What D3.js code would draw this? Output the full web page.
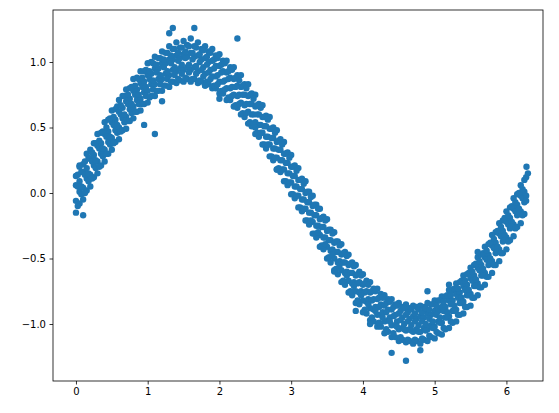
<!DOCTYPE html>
<html><head><meta charset="utf-8">
<script src="https://cdn.jsdelivr.net/npm/d3@7"></script>
<style>body{margin:0;background:#fff}</style></head>
<body><svg id="c" width="559" height="413"></svg>
<script>
const xs = [0,.05,.1,.15,.2,.25,.3,.35,.4,.45,.5,.55,.6,.65,.7,.75,.8,.85,.9,.95,1,1.05,1.1,1.15,1.2,1.25,1.3,1.35,1.4,1.45,1.5,1.55,1.6,1.65,1.7,1.75,1.8,1.85,1.9,1.95,2,2.05,2.1,2.15,2.2,2.25,2.3,2.35,2.4,2.45,2.5,2.55,2.6,2.65,2.7,2.75,2.8,2.85,2.9,2.95,3,3.05,3.1,3.15,3.2,3.25,3.3,3.35,3.4,3.45,3.5,3.55,3.6,3.65,3.7,3.75,3.8,3.85,3.9,3.95,4,4.05,4.1,4.15,4.2,4.25,4.3,4.35,4.4,4.45,4.5,4.55,4.6,4.65,4.7,4.75,4.8,4.85,4.9,4.95,5,5.05,5.1,5.15,5.2,5.25,5.3,5.35,5.4,5.45,5.5,5.55,5.6,5.65,5.7,5.75,5.8,5.85,5.9,5.95,6,6.05,6.1,6.15,6.2,6.25];
const xs2 = [.025,.075,.125,.175,.225,.275,.325,.375,.425,.475,.525,.575,.625,.675,.725,.775,.825,.875,.925,.975,1.025,1.075,1.125,1.175,1.225,1.275,1.325,1.375,1.425,1.475,1.525,1.575,1.625,1.675,1.725,1.775,1.825,1.875,1.925,1.975,2.025,2.075,2.125,2.175,2.225,2.275,2.325,2.375,2.425,2.475,2.525,2.575,2.625,2.675,2.725,2.775,2.825,2.875,2.925,2.975,3.025,3.075,3.125,3.175,3.225,3.275,3.325,3.375,3.425,3.475,3.525,3.575,3.625,3.675,3.725,3.775,3.825,3.875,3.925,3.975,4.025,4.075,4.125,4.175,4.225,4.275,4.325,4.375,4.425,4.475,4.525,4.575,4.625,4.675,4.725,4.775,4.825,4.875,4.925,4.975,5.025,5.075,5.125,5.175,5.225,5.275,5.325,5.375,5.425,5.475,5.525,5.575,5.625,5.675,5.725,5.775,5.825,5.875,5.925,5.975,6.025,6.075,6.125,6.175,6.225,6.275];
const yA = [.13,.21,.22,.30,.33,.38,.45,.46,.54,.56,.63,.64,.71,.74,.79,.80,.87,.88,.93,.93,.99,1.00,1.04,1.03,1.08,1.07,1.12,1.10,1.15,1.11,1.16,1.13,1.18,1.12,1.15,1.10,1.12,1.08,1.10,1.05,1.06,1.01,1.01,.96,.96,.90,.90,.83,.83,.76,.75,.68,.67,.59,.58,.50,.48,.41,.39,.31,.29,.21,.19,.11,.09,.01,-.02,-.09,-.12,-.18,-.20,-.28,-.30,-.37,-.39,-.45,-.47,-.53,-.55,-.60,-.62,-.67,-.68,-.73,-.73,-.77,-.78,-.81,-.81,-.85,-.84,-.87,-.85,-.88,-.86,-.87,-.86,-.87,-.84,-.85,-.82,-.82,-.79,-.79,-.74,-.74,-.69,-.68,-.63,-.62,-.57,-.55,-.49,-.47,-.41,-.39,-.32,-.30,-.23,-.21,-.14,-.11,-.04,-.01,.06,.10];
const yB = [.06,.09,.16,.19,.26,.29,.36,.38,.45,.47,.54,.56,.62,.65,.70,.72,.78,.79,.84,.85,.90,.91,.95,.95,.99,.99,1.02,1.02,1.05,1.03,1.06,1.04,1.07,1.04,1.05,1.02,1.03,1.00,1.01,.97,.97,.93,.92,.88,.87,.82,.81,.75,.74,.68,.66,.60,.58,.51,.49,.42,.39,.33,.30,.23,.20,.13,.10,.03,.00,-.07,-.10,-.17,-.20,-.26,-.29,-.36,-.38,-.45,-.47,-.53,-.55,-.61,-.63,-.68,-.70,-.75,-.76,-.81,-.81,-.85,-.86,-.89,-.89,-.93,-.92,-.95,-.93,-.96,-.94,-.96,-.94,-.95,-.92,-.93,-.90,-.90,-.87,-.87,-.82,-.82,-.77,-.76,-.71,-.70,-.65,-.63,-.57,-.55,-.49,-.47,-.40,-.38,-.31,-.29,-.22,-.19,-.12,-.09,-.02,.01];
const yC = [-.06,.01,.04,.11,.14,.21,.24,.30,.33,.39,.42,.48,.50,.57,.58,.64,.66,.71,.72,.77,.78,.83,.83,.87,.87,.91,.90,.94,.93,.95,.94,.96,.94,.96,.93,.94,.91,.92,.89,.89,.85,.85,.80,.80,.75,.74,.69,.67,.62,.60,.54,.52,.46,.43,.37,.34,.27,.25,.18,.15,.08,.05,-.02,-.05,-.12,-.15,-.22,-.25,-.32,-.34,-.41,-.44,-.50,-.53,-.59,-.61,-.67,-.69,-.75,-.76,-.82,-.83,-.88,-.89,-.93,-.93,-.98,-.97,-1.01,-1.01,-1.04,-1.03,-1.05,-1.04,-1.06,-1.04,-1.06,-1.03,-1.04,-1.01,-1.02,-.98,-.99,-.95,-.94,-.90,-.89,-.84,-.83,-.78,-.77,-.71,-.69,-.63,-.61,-.55,-.52,-.46,-.43,-.37,-.34,-.27,-.24,-.17,-.14,-.07];
const yD = [-.15,-.08,-.05,.02,.05,.12,.15,.21,.24,.30,.33,.39,.41,.48,.49,.55,.57,.62,.63,.68,.69,.74,.74,.78,.78,.82,.81,.85,.84,.86,.85,.87,.85,.87,.84,.85,.82,.83,.80,.80,.76,.76,.71,.71,.66,.65,.60,.58,.53,.51,.45,.43,.37,.34,.28,.25,.18,.16,.09,.06,-.01,-.04,-.11,-.14,-.21,-.24,-.31,-.34,-.41,-.43,-.50,-.53,-.59,-.62,-.68,-.70,-.76,-.78,-.84,-.85,-.91,-.92,-.97,-.98,-1.02,-1.02,-1.07,-1.06,-1.10,-1.10,-1.13,-1.12,-1.14,-1.13,-1.15,-1.13,-1.15,-1.12,-1.13,-1.10,-1.11,-1.07,-1.08,-1.04,-1.03,-.99,-.98,-.93,-.92,-.87,-.86,-.80,-.78,-.72,-.70,-.64,-.61,-.55,-.52,-.46,-.43,-.36,-.33,-.26,-.23,-.16];
const yE = [.14,.16,.24,.27,.31,.38,.40,.47,.50,.57,.58,.66,.67,.74,.75,.81,.82,.87,.88,.94,.93,.99,.98,1.03,1.02,1.07,1.05,1.10,1.07,1.11,1.08,1.12,1.07,1.11,1.06,1.09,1.04,1.07,1.02,1.03,.98,.99,.93,.94,.88,.86,.82,.80,.75,.72,.67,.65,.58,.56,.49,.46,.40,.37,.30,.27,.20,.17,.10,.07,.01,-.03,-.09,-.12,-.19,-.21,-.28,-.31,-.37,-.40,-.46,-.48,-.54,-.56,-.62,-.63,-.69,-.70,-.75,-.75,-.80,-.80,-.84,-.83,-.87,-.86,-.90,-.88,-.91,-.89,-.92,-.89,-.91,-.88,-.89,-.85,-.86,-.82,-.83,-.78,-.78,-.73,-.73,-.67,-.67,-.61,-.60,-.54,-.52,-.46,-.44,-.38,-.35,-.29,-.26,-.19,-.17,-.10,-.07,.00,.03,.12];
const yF = [.05,.05,.14,.15,.24,.25,.34,.34,.43,.43,.52,.52,.60,.60,.68,.68,.75,.75,.81,.81,.87,.86,.92,.90,.96,.93,.99,.96,1.01,.98,1.03,.98,1.02,.97,1.00,.96,.98,.94,.95,.90,.92,.86,.87,.81,.81,.75,.75,.68,.68,.60,.60,.52,.51,.43,.42,.34,.33,.25,.23,.15,.13,.05,.03,-.05,-.07,-.15,-.17,-.25,-.26,-.34,-.36,-.43,-.45,-.52,-.53,-.60,-.61,-.68,-.69,-.75,-.76,-.81,-.82,-.87,-.87,-.91,-.91,-.95,-.94,-.98,-.97,-1.00,-.98,-1.01,-.98,-1.01,-.98,-1.00,-.96,-.98,-.93,-.95,-.90,-.91,-.85,-.86,-.80,-.80,-.74,-.74,-.67,-.66,-.59,-.58,-.51,-.50,-.42,-.41,-.33,-.32,-.24,-.22,-.14,-.12,-.04,-.02];
const yG = [-.10,-.01,.00,.09,.11,.19,.20,.28,.30,.37,.38,.46,.47,.54,.55,.61,.62,.68,.68,.74,.73,.79,.78,.83,.82,.87,.85,.90,.87,.91,.88,.92,.87,.91,.86,.89,.85,.87,.82,.83,.78,.79,.73,.74,.67,.68,.61,.61,.54,.53,.46,.46,.37,.37,.28,.27,.19,.18,.09,.08,-.01,-.02,-.11,-.12,-.21,-.21,-.31,-.30,-.40,-.39,-.49,-.47,-.58,-.55,-.67,-.63,-.75,-.71,-.82,-.78,-.89,-.85,-.95,-.90,-.99,-.95,-1.04,-.98,-1.07,-1.02,-1.10,-1.04,-1.12,-1.05,-1.12,-1.06,-1.11,-1.05,-1.09,-1.03,-1.06,-.99,-1.03,-.95,-.98,-.90,-.93,-.84,-.87,-.78,-.80,-.71,-.72,-.63,-.64,-.54,-.55,-.45,-.46,-.36,-.37,-.26,-.27,-.16,-.17,-.06];
const outX = [1.35,1.65,1.1,0.95,2.0,2.5,4.6,4.4,4.9,5.2,1.8,0.1,3.6,2.25,1.3,4.8,0.05,6.28,6.3,5.6,3.9,4.1,1.2,2.8];
const outY = [1.26,1.26,0.45,0.52,0.72,0.50,-1.28,-1.22,-0.75,-0.70,0.82,-0.17,-0.60,1.18,1.22,-1.20,0.20,0.20,0.15,-0.45,-0.90,-1.00,0.70,0.18];
const xTicks = [0,1,2,3,4,5,6];
const yTicks = [-1.0,-0.5,0.0,0.5,1.0];

const L=53,R=543,T=10,B=381;
const x = d3.scaleLinear().domain([-0.32,6.51]).range([L,R]);
const y = d3.scaleLinear().domain([-1.435,1.397]).range([B,T]);
const svg = d3.select("#c");
const pts = [];
[yA,yB,yC,yD].forEach(ys => ys.forEach((v,i)=>pts.push([xs[i],v])));
[yE,yF,yG].forEach(ys => ys.forEach((v,i)=>pts.push([xs2[i],v])));
outX.forEach((v,i)=>pts.push([v,outY[i]]));
svg.append("g").selectAll("circle").data(pts).join("circle")
  .attr("cx",d=>x(d[0])).attr("cy",d=>y(d[1])).attr("r",3.2).attr("fill","#1f77b4");
const fmt = d3.format(".1f");
const gx = svg.append("g").attr("transform",`translate(0,${B})`)
  .call(d3.axisBottom(x).tickValues(xTicks).tickSize(3.5).tickPadding(3.5).tickFormat(d3.format("d")));
const gy = svg.append("g").attr("transform",`translate(${L},0)`)
  .call(d3.axisLeft(y).tickValues(yTicks).tickSize(3.5).tickPadding(3.5).tickFormat(fmt));
[gx,gy].forEach(g=>{g.select(".domain").remove();
  g.selectAll("text").attr("font-family","DejaVu Sans").attr("font-size",10).attr("fill","#000");
  g.selectAll("line").attr("stroke","#000").attr("stroke-width",0.8);});
svg.append("rect").attr("x",L).attr("y",T).attr("width",R-L).attr("height",B-T)
  .attr("fill","none").attr("stroke","#000").attr("stroke-width",0.8);
</script></body></html>
